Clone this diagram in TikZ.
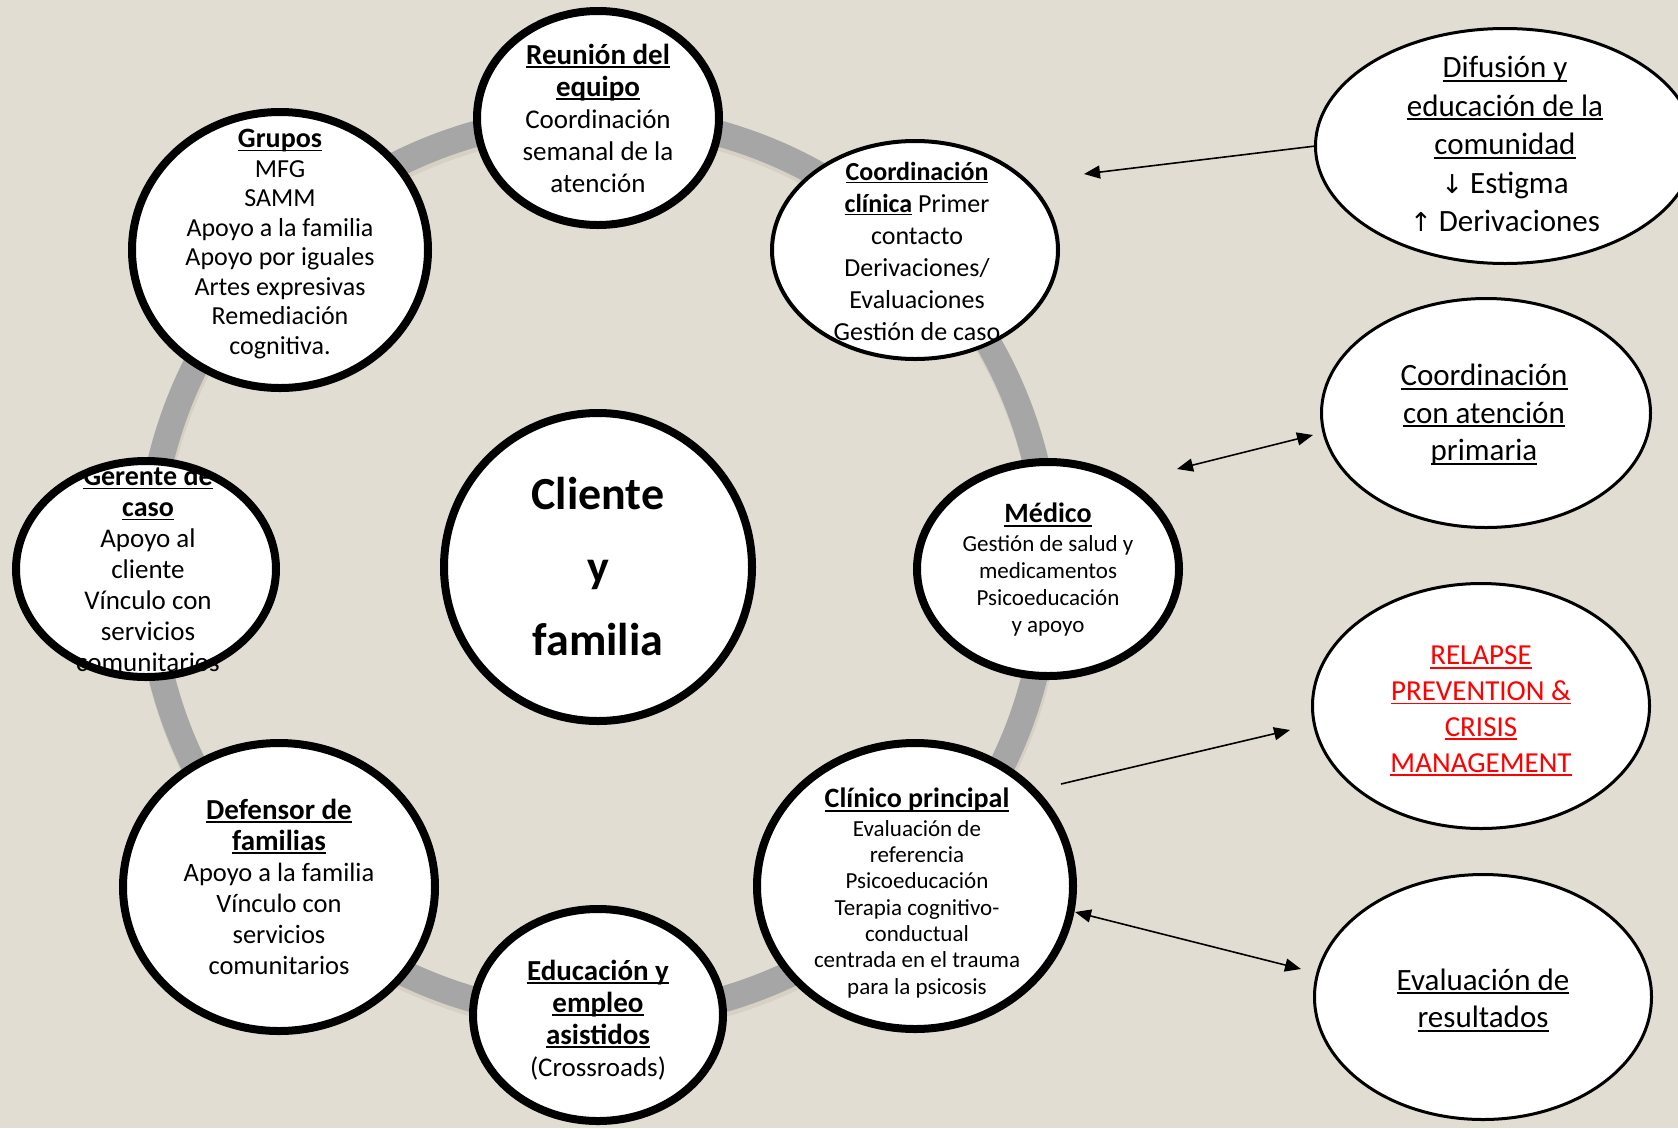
\documentclass[tikz,border=0pt]{standalone}
\usepackage{fontspec}
\setmainfont{Carlito}
\newfontfamily\symf{DejaVu Sans}
\usetikzlibrary{shapes.geometric,arrows.meta}
\definecolor{bg}{RGB}{226,221,210}
\definecolor{ringgray}{RGB}{166,166,166}
\definecolor{ringshade}{RGB}{215,209,197}
\newcommand\ulx[1]{\setbox0\hbox{#1}\leavevmode\rlap{\rule[-0.13em]{\wd0}{0.065em}}\box0}
\newcommand\ttl[2][28]{{\fontsize{#1}{#1}\selectfont\bfseries\ulx{#2}}}
\begin{document}
\begin{tikzpicture}[x=1pt,y=-1pt,
  fillell/.style={ellipse, fill=white, inner sep=0pt, outer sep=0pt},
  thickrim/.style={ellipse, draw=black, line width=8pt, inner sep=0pt},
  midrim/.style={ellipse, draw=black, line width=4pt, inner sep=0pt},
  thinrim/.style={ellipse, draw=black, line width=3pt, inner sep=0pt},
  txt/.style={align=center, inner sep=0pt},
  conn/.style={line width=1.6pt, -{Triangle[length=16pt,width=13pt]}},
  conntwo/.style={line width=1.6pt, {Triangle[length=16pt,width=13pt]}-{Triangle[length=16pt,width=13pt]}},
]
\fill[bg] (0,0) rectangle (1678,1128);
\useasboundingbox (0,0) rectangle (1678,1128);

% ring
\draw[ringshade, line width=27pt] (599,571) circle (450);
\draw[ringgray, line width=26pt] (598,567) circle (450);

% Reunion del equipo
\node[fillell, minimum width=242pt, minimum height=214pt] (reu) at (598,118) {};
\node[txt, font=\fontsize{27}{32}\selectfont] at (reu) {\ttl[29]{Reunión del}\\\ttl[29]{equipo}\\Coordinación\\semanal de la\\atención};
\node[thickrim, minimum width=242pt, minimum height=214pt] at (reu) {};

% Grupos
\node[fillell, minimum width=296pt, minimum height=276pt] (grp) at (280,250) {};
\node[txt, font=\fontsize{26}{29.5}\selectfont] at ([yshift=6pt]grp.center) {\ttl{Grupos}\\MFG\\SAMM\\Apoyo a la familia\\Apoyo por iguales\\Artes expresivas\\Remediación\\cognitiva.};
\node[thickrim, minimum width=296pt, minimum height=276pt] at (grp) {};

% Coordinacion clinica
\node[fillell, minimum width=286pt, minimum height=218pt] (cc) at (915,250) {};
\node[txt, font=\fontsize{26}{32}\selectfont] at ([xshift=2pt,yshift=-1pt]cc.center) {\ttl[26]{Coordinación}\\\ttl[26]{clínica} Primer\\contacto\\Derivaciones/\\Evaluaciones\\Gestión de caso};
\node[midrim, minimum width=286pt, minimum height=218pt] at (cc) {};

% Cliente y familia
\node[fillell, minimum width=308pt, minimum height=308pt] (cli) at (598,567) {};
\node[txt, font=\fontsize{46}{73}\selectfont\bfseries] at (cli) {Cliente\\y\\familia};
\node[thickrim, minimum width=308pt, minimum height=308pt] at (cli) {};

% Gerente de caso
\node[fillell, minimum width=260pt, minimum height=216pt] (ger) at (146,569) {};
\node[txt, font=\fontsize{27}{31}\selectfont] at ([xshift=2pt]ger.center) {\ttl{Gerente de}\\\ttl{caso}\\Apoyo al\\cliente\\Vínculo con\\servicios\\comunitarios};
\node[thickrim, minimum width=260pt, minimum height=216pt] at (ger) {};

% Medico
\node[fillell, minimum width=262pt, minimum height=214pt] (med) at (1048,569) {};
\node[txt, font=\fontsize{23}{27}\selectfont] at ([yshift=-1pt]med.center) {\ttl{Médico}\\[2pt]Gestión de salud y\\medicamentos\\Psicoeducación\\y apoyo};
\node[thickrim, minimum width=262pt, minimum height=214pt] at (med) {};

% Clinico principal
\node[fillell, minimum width=316pt, minimum height=286pt] (clp) at (915,886) {};
\node[txt, font=\fontsize{23}{26.3}\selectfont] at ([yshift=-7pt,xshift=2pt]clp.center) {\ttl{Clínico principal}\\[2pt]Evaluación de\\referencia\\Psicoeducación\\Terapia cognitivo-\\conductual\\centrada en el trauma\\para la psicosis};
\node[thickrim, minimum width=316pt, minimum height=286pt] at (clp) {};

% Defensor de familias
\node[fillell, minimum width=312pt, minimum height=288pt] (def) at (279,887) {};
\node[txt, font=\fontsize{26.5}{31}\selectfont] at (def) {\ttl[29]{Defensor de}\\\ttl[29]{familias}\\Apoyo a la familia\\Vínculo con\\servicios\\comunitarios};
\node[thickrim, minimum width=312pt, minimum height=288pt] at (def) {};

% Educacion y empleo
\node[fillell, minimum width=250pt, minimum height=212pt] (edu) at (598,1015) {};
\node[txt, font=\fontsize{27}{32}\selectfont] at ([yshift=-5pt]edu.center) {\ttl[29]{Educación y}\\\ttl[29]{empleo}\\\ttl[29]{asistidos}\\(Crossroads)};
\node[thickrim, minimum width=250pt, minimum height=212pt] at (edu) {};

% Difusion
\node[fillell, minimum width=379pt, minimum height=235pt] (dif) at (1505,146) {};
\node[txt, font=\fontsize{31}{38.5}\selectfont] at ([yshift=2pt]dif.center) {\ulx{Difusión y}\\\ulx{educación de la}\\\ulx{comunidad}\\{\symf\fontsize{26}{26}\selectfont ↓} Estigma\\{\symf\fontsize{26}{26}\selectfont ↑} Derivaciones};
\node[thinrim, minimum width=379pt, minimum height=235pt] at (dif) {};

% Coordinacion con atencion primaria
\node[fillell, minimum width=329pt, minimum height=229pt] (cap) at (1486,413) {};
\node[txt, font=\fontsize{31}{37.5}\selectfont] at ([xshift=-2pt,yshift=-2pt]cap.center) {\ulx{Coordinación}\\\ulx{con atención}\\\ulx{primaria}};
\node[thinrim, minimum width=329pt, minimum height=229pt] at (cap) {};

% Relapse
\node[fillell, minimum width=337pt, minimum height=245pt] (rel) at (1481,706) {};
\node[txt, text=red, font=\fontsize{29}{35.7}\selectfont] at ([yshift=-5pt]rel.center) {\ulx{RELAPSE}\\\ulx{PREVENTION \&}\\\ulx{CRISIS}\\\ulx{MANAGEMENT}};
\node[thinrim, minimum width=337pt, minimum height=245pt] at (rel) {};

% Evaluacion de resultados
\node[fillell, minimum width=337pt, minimum height=245pt] (eva) at (1483,997) {};
\node[txt, font=\fontsize{31}{37.5}\selectfont] at ([yshift=-3pt]eva.center) {\ulx{Evaluación de}\\\ulx{resultados}};
\node[thinrim, minimum width=337pt, minimum height=245pt] at (eva) {};

% connectors
\coordinate (a1e) at (1084,174);
\coordinate (a2a) at (1177,469);
\coordinate (a2b) at (1313,435);
\coordinate (a3a) at (1061,784);
\coordinate (a3b) at (1290,730);
\coordinate (a4a) at (1075,912);
\coordinate (a4b) at (1301,969);
\draw[conn] (dif.west) -- (a1e);
\draw[conntwo] (a2a) -- (a2b);
\draw[conn] (a3a) -- (a3b);
\draw[conntwo] (a4a) -- (a4b);
\end{tikzpicture}
\end{document}
